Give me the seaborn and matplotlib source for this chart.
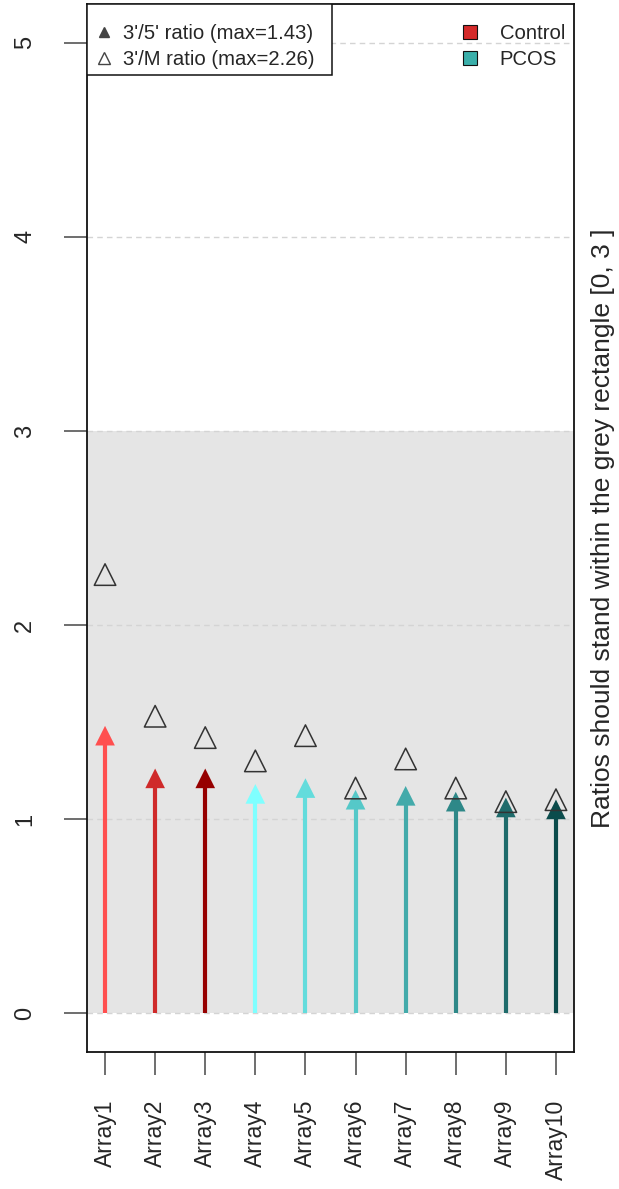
import matplotlib
matplotlib.use("Agg")
import matplotlib.pyplot as plt
from matplotlib.lines import Line2D
from matplotlib.patches import Rectangle
import seaborn as sns
import pandas as pd

arrays = ["Array1", "Array2", "Array3", "Array4", "Array5",
          "Array6", "Array7", "Array8", "Array9", "Array10"]
ratio_3_5 = [1.43, 1.21, 1.21, 1.13, 1.16, 1.10, 1.12, 1.09, 1.06, 1.05]
ratio_3_M = [2.26, 1.53, 1.42, 1.30, 1.43, 1.16, 1.31, 1.16, 1.09, 1.10]
groups = ["Control"] * 3 + ["PCOS"] * 7
array_colors = ["#FF4F4F", "#CF2A2A", "#960000", "#7FFFFF", "#63DCDC",
                "#55C8C8", "#43AAAA", "#2E8888", "#1E6B6B", "#0B4C4C"]
group_colors = {"Control": "#D42A2A", "PCOS": "#3AAFAA"}
y_ticks = [0, 1, 2, 3, 4, 5]

df = pd.DataFrame({"array": arrays, "r35": ratio_3_5, "r3M": ratio_3_M, "group": groups})

sns.set_style("white")
plt.rcParams["font.family"] = ["Liberation Sans", "DejaVu Sans"]

fig = plt.figure(figsize=(6.19, 11.89), dpi=100)
ax = fig.add_axes([87 / 619, 1 - 1052 / 1189, (574 - 87) / 619, (1052 - 4) / 1189])

ax.set_xlim(-0.36, 9.36)
ax.set_ylim(-0.2, 5.2)
ax.axhspan(0, 3, color="#E5E5E5", zorder=0, lw=0)
for yt in y_ticks:
    ax.axhline(yt, color="#D4D4D4", ls=(0, (4, 3)), lw=1, zorder=0.5)

xpos = list(range(len(arrays)))
ax.vlines(xpos, 0, df["r35"], colors=array_colors, lw=3, zorder=2)
sns.scatterplot(data=df, x="array", y="r35", hue="array", palette=array_colors,
                marker="^", s=200, linewidth=0, legend=False, ax=ax, zorder=3)
sns.scatterplot(data=df, x="array", y="r3M", marker="^", s=240,
                facecolors="none", edgecolor="#333333", linewidth=1.1,
                legend=False, ax=ax, zorder=4)

ax.set_xlim(-0.36, 9.36)
ax.set_ylim(-0.2, 5.2)
ax.set_xticks(xpos)
ax.set_xticklabels(arrays, rotation=90, fontsize=16.5)
ax.set_yticks(y_ticks)
ax.set_yticklabels([str(v) for v in y_ticks], rotation=90, fontsize=17, va="center")
ax.tick_params(axis="both", direction="out", length=16.5, width=1.2, color="#555555",
               pad=18, left=True, bottom=True)
ax.tick_params(axis="y", pad=20)
ax.set_xlabel("")
ax.set_ylabel("Ratios should stand within the grey rectangle [0, 3 ]", fontsize=19)
ax.yaxis.set_label_position("right")
ax.yaxis.labelpad = 12
for s in ax.spines.values():
    s.set_color("#111111")
    s.set_linewidth(1.3)

# legend box (R-style, asymmetric padding)
ax.add_patch(Rectangle((0, 0.932), 0.503, 0.068, transform=ax.transAxes,
                       facecolor="white", edgecolor="#111111", lw=1.1, zorder=5))

h1 = [Line2D([], [], marker="^", ls="none", color="#444444", markersize=7),
      Line2D([], [], marker="^", ls="none", markerfacecolor="none",
             markeredgecolor="#444444", markersize=8.5)]
leg1 = ax.legend(h1, ["3'/5' ratio (max=%.2f)" % max(ratio_3_5),
                      "3'/M ratio (max=%.2f)" % max(ratio_3_M)],
                 loc="upper left", bbox_to_anchor=(0, 0.987), borderaxespad=0,
                 frameon=False, fontsize=14.6, handletextpad=0.4, handlelength=1.08,
                 labelspacing=0.38, borderpad=0.3)
leg1.set_zorder(6)
ax.add_artist(leg1)

h2 = [Line2D([], [], marker="s", ls="none", markerfacecolor=group_colors[g],
             markeredgecolor="#111111", markersize=10, markeredgewidth=0.8)
      for g in ["Control", "PCOS"]]
leg2 = ax.legend(h2, ["Control", "PCOS"], loc="upper right", bbox_to_anchor=(0.994, 0.987),
                 borderaxespad=0, frameon=False, fontsize=14.6, handletextpad=0.9,
                 handlelength=1.1, labelspacing=0.38, borderpad=0.3)
leg2.set_zorder(6)

fig.savefig("out.png", dpi=100)
